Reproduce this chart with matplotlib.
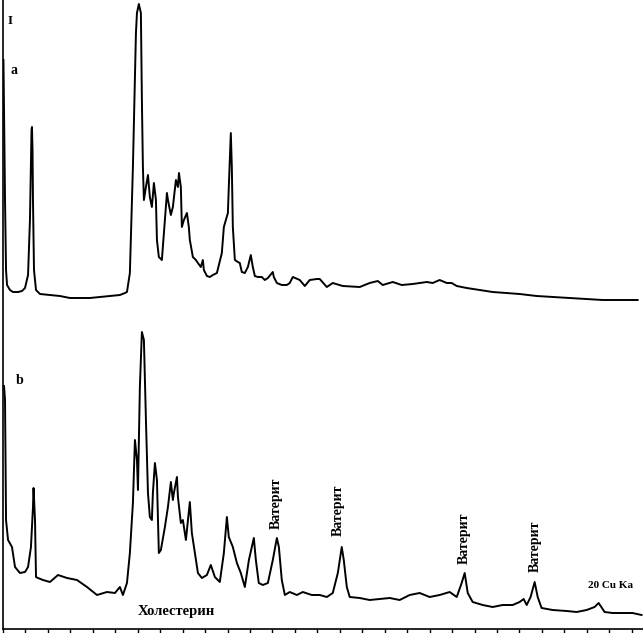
import numpy as np
import matplotlib
matplotlib.use('Agg')
import matplotlib.pyplot as plt

plt.rcParams['font.family'] = ['Liberation Serif', 'DejaVu Serif']

# Trace a (upper pattern), 2theta (deg) and intensity (arb. units)
tt_a = [2.04, 2.18, 2.27, 2.36, 2.62, 2.89, 3.34, 3.69, 3.96, 4.23, 4.40, 4.49, 4.54, 4.58,
        4.63, 4.67, 4.76, 4.94, 5.29, 6.18, 7.07, 7.96, 8.85, 9.74, 10.63, 11.52, 12.41, 12.86,
        13.04, 13.30, 13.57, 13.84, 13.93, 14.10, 14.28, 14.37, 14.46, 14.55, 14.73, 14.91, 15.08,
        15.26, 15.44, 15.62, 15.71, 15.88, 16.15, 16.33, 16.60, 16.69, 16.95, 17.13, 17.40, 17.58,
        17.67, 17.84, 17.93, 18.11, 18.38, 18.55, 18.64, 18.91, 19.18, 19.36, 19.62, 19.80, 19.89,
        20.16, 20.42, 20.69, 21.05, 21.49, 21.67, 21.85, 22.03, 22.11, 22.29, 22.38, 22.47, 22.65,
        22.92, 23.09, 23.27, 23.54, 23.81, 24.07, 24.25, 24.43, 24.70, 25.05, 25.32, 25.59, 26.03,
        26.12, 26.39, 26.83, 27.28, 27.54, 27.81, 28.43, 28.88, 29.32, 29.95, 30.21, 30.84, 31.37,
        32.26, 33.77, 34.66, 35.38, 35.82, 36.71, 37.51, 38.49, 39.74, 40.27, 40.89, 41.52, 41.96,
        42.41, 43.30, 44.45, 45.61, 46.86, 48.01, 49.53, 50.95, 52.46, 53.98, 55.40, 56.91, 58.52]
int_a = [279, 139, 69, 54, 49, 47, 47, 48, 51, 64, 119, 179, 209, 212,
         189, 139, 69, 49, 45, 44, 43, 41, 41, 41, 42, 43, 44, 46,
         47, 66, 172, 306, 326, 335, 326, 239, 172, 139, 152, 164, 142,
         132, 156, 139, 99, 82, 79, 106, 146, 139, 124, 132, 159, 152,
         166, 152, 112, 119, 126, 112, 99, 82, 79, 76, 72, 79, 69,
         63, 62, 64, 66, 86, 112, 119, 126, 152, 206, 172, 112, 79,
         77, 76, 67, 66, 72, 84, 72, 63, 62, 62, 59, 61, 67,
         62, 56, 54, 54, 56, 62, 59, 53, 59, 60, 60, 52, 56,
         53, 52, 56, 58, 54, 57, 54, 55, 57, 56, 59, 56, 56,
         53, 51, 49, 47, 46, 45, 43, 42, 41, 40, 39, 39, 39]

# Trace b (lower pattern)
tt_b = [2.09, 2.18, 2.27, 2.45, 2.80, 3.07, 3.51, 3.96, 4.23, 4.49, 4.67, 4.72, 4.85, 4.94,
        5.12, 5.56, 6.18, 6.90, 7.70, 8.59, 9.48, 10.37, 11.26, 11.97, 12.41, 12.68, 13.04, 13.30,
        13.57, 13.75, 13.93, 14.02, 14.19, 14.37, 14.55, 14.73, 14.91, 15.08, 15.26, 15.35, 15.53,
        15.71, 15.88, 16.06, 16.42, 16.69, 16.95, 17.13, 17.22, 17.49, 17.58, 17.84, 18.02, 18.29,
        18.47, 18.64, 18.82, 19.09, 19.36, 19.71, 20.16, 20.51, 20.87, 21.31, 21.67, 21.94, 22.11,
        22.47, 22.83, 23.18, 23.54, 23.90, 24.16, 24.34, 24.52, 24.78, 25.14, 25.59, 26.03, 26.39,
        26.57, 26.83, 27.10, 27.54, 28.17, 28.70, 29.50, 30.04, 30.21, 30.84, 31.37, 31.82, 32.17,
        32.35, 32.62, 32.88, 33.77, 34.66, 35.55, 36.44, 37.33, 38.22, 39.11, 40.00, 40.89, 41.78,
        42.41, 42.85, 43.12, 43.39, 43.83, 44.72, 45.61, 46.50, 47.39, 48.01, 48.37, 48.64, 48.99,
        49.35, 49.62, 49.97, 50.95, 52.20, 53.09, 53.98, 54.69, 55.05, 55.58, 56.29, 57.18, 58.07,
        58.87]
int_b = [243, 229, 109, 89, 82, 62, 56, 57, 62, 82, 122, 141, 109, 52,
         51, 49, 47, 54, 51, 49, 42, 34, 37, 36, 42, 34, 46, 76,
         126, 189, 169, 139, 242, 297, 289, 209, 136, 112, 109, 136, 166,
         149, 76, 79, 102, 122, 147, 129, 136, 152, 132, 106, 109, 89,
         109, 127, 96, 76, 56, 51, 54, 64, 52, 47, 76, 112, 92,
         82, 66, 56, 42, 69, 82, 91, 69, 46, 44, 46, 69, 91,
         82, 49, 34, 37, 34, 37, 34, 34, 34, 32, 36, 56, 82,
         69, 42, 32, 31, 29, 30, 31, 29, 34, 36, 32, 34, 37,
         32, 46, 56, 36, 27, 24, 22, 24, 24, 27, 30, 24, 32,
         47, 32, 21, 19, 18, 17, 19, 22, 26, 17, 16, 16, 16,
         14]

offset_a = 290  # vertical shift of the upper pattern

# vaterite peak labels (2theta, height)
vat_x = [26.31, 31.83, 43.05, 49.37]
vat_y = [126, 119, 91, 83]

fig = plt.figure(figsize=(6.43, 6.33), dpi=100)
ax = fig.add_axes([3/643, 4/633, 640/643, 629/633])

ax.plot(tt_a, np.array(int_a) + offset_a, color='black', lw=1.4)
ax.plot(tt_b, int_b, color='black', lw=1.4)

ax.set_xlim(2, 59.0)
ax.set_ylim(0, 629)
ax.set_xticks(np.arange(2, 59, 2))
ax.set_xticklabels([])
ax.set_yticks([])
ax.tick_params(axis='x', direction='out', length=3.5, width=1, color='black')
for s in ['top', 'right']:
    ax.spines[s].set_visible(False)
for s in ['left', 'bottom']:
    ax.spines[s].set_linewidth(1.2)

fb = dict(fontweight='bold', color='black')
ax.text(2.67, 608, 'I', fontsize=9.5, ha='center', va='center', **fb)
ax.text(2.94, 558, 'a', fontsize=10, ha='center', va='center', **fb)
ax.text(3.51, 248, 'b', fontsize=10, ha='center', va='center', **fb)
for x, y in zip(vat_x, vat_y):
    ax.text(x, y, 'Ватерит', rotation=90, fontsize=10, ha='center', va='center', **fb)
ax.text(17.41, 17, 'Холестерин', fontsize=10.5, ha='center', va='center', **fb)
ax.text(56.14, 43, '20 Cu Ka', fontsize=8, ha='center', va='center', **fb)

plt.savefig('out.png', dpi=100)
